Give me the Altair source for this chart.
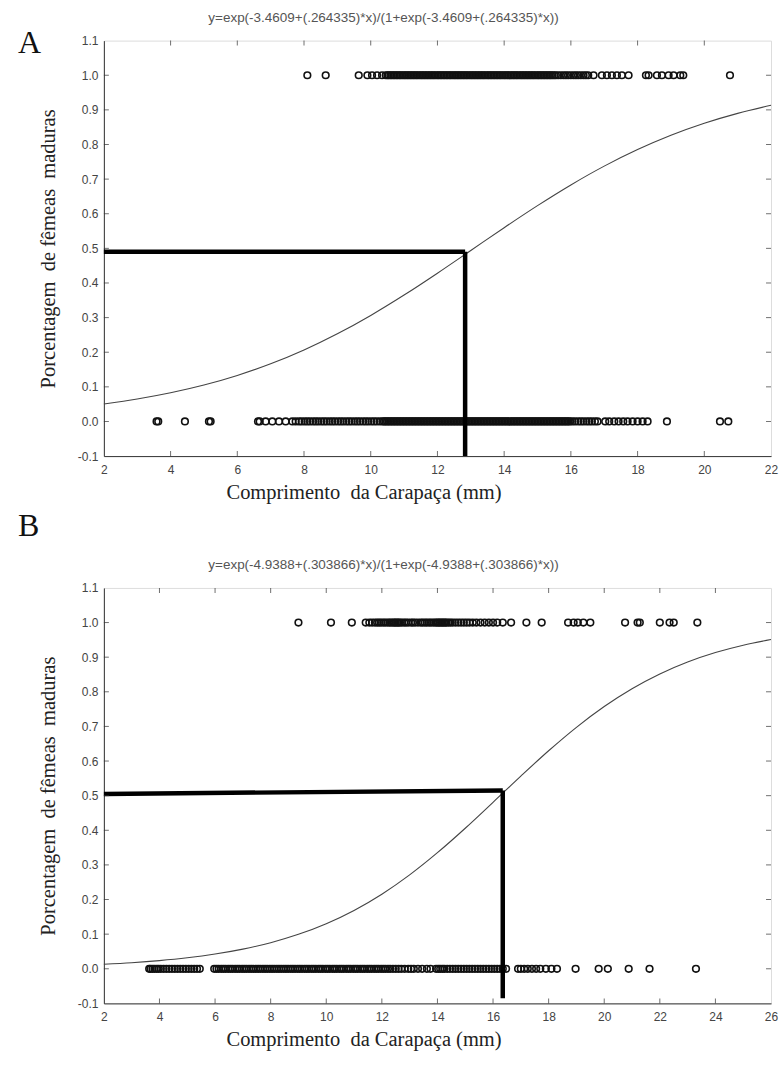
import altair as alt
import pandas as pd

# ---------------- data ----------------
A_top = [8.10, 8.65, 9.64, 9.90, 10.04, 10.19, 10.34,
         10.45, 10.50, 10.54, 10.59, 10.63, 10.68, 10.72, 10.77, 10.81, 10.86, 10.90, 10.95,
         11.00, 11.04, 11.09, 11.13, 11.18, 11.22, 11.27, 11.31, 11.36, 11.40, 11.45, 11.50,
         11.54, 11.59, 11.63, 11.68, 11.72, 11.77, 11.81, 11.86, 11.90, 11.95, 12.00, 12.04,
         12.09, 12.13, 12.18, 12.22, 12.27, 12.31, 12.36, 12.40, 12.45, 12.50, 12.54, 12.59,
         12.63, 12.68, 12.72, 12.77, 12.81, 12.86, 12.90, 12.95, 13.00, 13.04, 13.09, 13.13,
         13.18, 13.22, 13.27, 13.31, 13.36, 13.40, 13.45, 13.50, 13.54, 13.59, 13.63, 13.68,
         13.72, 13.77, 13.81, 13.86, 13.90, 13.95, 14.00, 14.04, 14.09, 14.13, 14.18, 14.22,
         14.27, 14.31, 14.36, 14.40, 14.45, 14.50, 14.54, 14.59, 14.63, 14.68, 14.72, 14.77,
         14.81, 14.86, 14.90, 14.95, 15.00, 15.04, 15.09, 15.13, 15.18, 15.22, 15.27, 15.31,
         15.36, 15.40, 15.45, 15.50, 15.55, 15.62, 15.70, 15.78, 15.85, 15.92, 16.00, 16.08,
         16.15, 16.22, 16.30, 16.38, 16.45, 16.52,
         16.68, 16.93, 17.08, 17.23, 17.38, 17.53, 17.73, 18.25, 18.33, 18.58, 18.73, 18.93,
         19.08, 19.28, 19.37, 20.77]
A_bottom = [3.58, 3.63, 4.43, 5.15, 5.20, 6.62, 6.67, 6.85, 7.05, 7.25, 7.45, 7.65, 7.75,
            7.85, 7.93, 8.02, 8.10, 8.18, 8.27, 8.35, 8.43, 8.52, 8.60, 8.68, 8.77, 8.85, 8.93,
            9.02, 9.10, 9.18, 9.27, 9.35, 9.43, 9.52, 9.60, 9.68, 9.77, 9.85, 9.93, 10.02, 10.10,
            10.18, 10.27, 10.35,
            10.40, 10.44, 10.49, 10.53, 10.58, 10.62, 10.67, 10.71, 10.76, 10.80, 10.85, 10.89,
            10.94, 10.98, 11.03, 11.07, 11.12, 11.16, 11.21, 11.25, 11.30, 11.34, 11.39, 11.43,
            11.48, 11.52, 11.57, 11.61, 11.66, 11.70, 11.75, 11.79, 11.84, 11.88, 11.93, 11.97,
            12.02, 12.06, 12.11, 12.15, 12.20, 12.24, 12.29, 12.33, 12.38, 12.42, 12.47, 12.51,
            12.56, 12.60, 12.65, 12.69, 12.74, 12.78, 12.83, 12.87, 12.92, 12.96, 13.01, 13.05,
            13.10, 13.14, 13.19, 13.23, 13.28, 13.32, 13.37, 13.41, 13.46, 13.50, 13.55, 13.59,
            13.64, 13.68, 13.73, 13.77, 13.82, 13.86, 13.91, 13.95, 14.00, 14.04, 14.09, 14.13,
            14.18, 14.22, 14.27, 14.31, 14.36, 14.40, 14.45, 14.49, 14.54, 14.58, 14.63, 14.67,
            14.72, 14.76, 14.81, 14.85, 14.90, 14.94, 14.99, 15.03, 15.08, 15.12, 15.17, 15.21,
            15.26, 15.30, 15.35, 15.39, 15.44, 15.48, 15.53, 15.57, 15.62, 15.66, 15.71, 15.75,
            15.80, 15.84, 15.89, 15.93, 15.98,
            16.05, 16.13, 16.22, 16.30, 16.38, 16.47, 16.55, 16.63, 16.72, 16.80,
            17.03, 17.15, 17.30, 17.43, 17.57, 17.70, 17.85, 18.00, 18.15, 18.30,
            18.88, 20.47, 20.72]

B_top = [9.00, 10.17, 10.92, 11.42, 11.55, 11.65, 11.75, 11.83, 11.90, 11.97, 12.05, 12.12,
         12.20, 12.27, 12.33, 12.40, 12.45, 12.50, 12.55, 12.60, 12.65, 12.72, 12.80, 12.87,
         12.95, 13.05, 13.12, 13.20, 13.30, 13.40, 13.47, 13.55, 13.62, 13.70, 13.77, 13.85,
         13.92, 13.98, 14.03, 14.08, 14.13, 14.18, 14.23, 14.28, 14.33, 14.40, 14.47, 14.55,
         14.65, 14.75, 14.85, 14.95, 15.05, 15.15, 15.27, 15.40, 15.55, 15.70, 15.85, 16.00,
         16.15, 16.35, 16.65, 17.20, 17.75, 18.70, 18.90, 19.05, 19.25, 19.50, 20.75, 21.20,
         21.28, 22.00, 22.35, 22.50, 23.35]
B_bottom = [3.63, 3.68, 3.75, 3.82, 3.90, 3.97, 4.05, 4.15, 4.25, 4.35, 4.45, 4.55, 4.65,
            4.75, 4.85, 4.95, 5.05, 5.15, 5.25, 5.35, 5.45,
            5.97, 6.05, 6.13, 6.22, 6.30, 6.38, 6.47, 6.55, 6.63, 6.72, 6.80, 6.88, 6.97, 7.05,
            7.13, 7.22, 7.30, 7.38, 7.47, 7.55, 7.63, 7.72, 7.80, 7.88, 7.97, 8.05, 8.13, 8.22,
            8.30, 8.38, 8.47, 8.55, 8.63, 8.72, 8.80, 8.88, 8.97, 9.05, 9.13, 9.22, 9.30, 9.38,
            9.47, 9.55, 9.63, 9.72, 9.80, 9.88, 9.97, 10.05, 10.13, 10.22, 10.30, 10.38, 10.47,
            10.55, 10.63, 10.72, 10.80, 10.88, 10.97, 11.05, 11.13, 11.22, 11.30, 11.38, 11.47,
            11.55, 11.63, 11.72, 11.80, 11.88, 11.97, 12.05, 12.13, 12.22, 12.30, 12.40, 12.50,
            12.60, 12.70, 12.82, 12.95, 13.05, 13.15, 13.30, 13.45, 13.62, 13.75,
            13.95, 14.03, 14.10, 14.18, 14.25, 14.35, 14.45, 14.55, 14.65, 14.75, 14.85, 14.95,
            15.05, 15.15, 15.25, 15.35, 15.45, 15.55, 15.65, 15.75, 15.85, 15.95, 16.05, 16.15,
            16.25, 16.35, 16.47,
            16.90, 17.00, 17.12, 17.25, 17.40, 17.55, 17.70, 17.90, 18.10, 18.30, 18.97, 19.80,
            20.13, 20.88, 21.63, 23.30]

# fitted logistic curves
A_curve_x = [2, 3, 4, 5, 6, 7, 8, 9, 10, 11, 12, 13, 14, 15, 16, 17, 18, 19, 20, 21, 22]
A_curve_y = [0.0506, 0.0649, 0.0829, 0.1053, 0.1330, 0.1665, 0.2065, 0.2532, 0.3063, 0.3651,
             0.4283, 0.4939, 0.5597, 0.6234, 0.6832, 0.7375, 0.7853, 0.8266, 0.8613, 0.8899,
             0.9133]
B_curve_x = [2, 3, 4, 5, 6, 7, 8, 9, 10, 11, 12, 13, 14, 15, 16, 17, 18, 19, 20, 21, 22, 23,
             24, 25, 26]
B_curve_y = [0.0130, 0.0175, 0.0236, 0.0317, 0.0425, 0.0567, 0.0753, 0.0994, 0.1301, 0.1685,
             0.2154, 0.2712, 0.3353, 0.4059, 0.4808, 0.5565, 0.6297, 0.6974, 0.7574, 0.8088,
             0.8515, 0.8860, 0.9133, 0.9345, 0.9508]

# reference (L50) lines: start x, end x, start y, end y
A_ref_x = [2.0, 12.83]
A_ref_x2 = [12.83, 12.83]
A_ref_y = [0.49, 0.49]
A_ref_y2 = [0.49, -0.10]
B_ref_x = [2.0, 16.35]
B_ref_x2 = [16.35, 16.35]
B_ref_y = [0.505, 0.515]
B_ref_y2 = [0.515, -0.085]

A_eq = "y=exp(-3.4609+(.264335)*x)/(1+exp(-3.4609+(.264335)*x))"
B_eq = "y=exp(-4.9388+(.303866)*x)/(1+exp(-4.9388+(.303866)*x))"
X_TITLE = "Comprimento\u00a0 da Carapaça (mm)"
Y_TITLE = "Porcentagem\u00a0 de fêmeas\u00a0 maduras"
Y_TICKS = [round(-0.1 + 0.1 * i, 1) for i in range(13)]

W, H = 668, 416
AXC = "#333333"
LBL = "#444444"


def panel(letter, letter_y, eq, top, bottom, cx, cy, rx, rx2, ry, ry2, xmax):
    xticks = list(range(2, xmax + 1, 2))
    xs = alt.Scale(domain=[2, xmax], nice=False, zero=False)
    ys = alt.Scale(domain=[-0.1, 1.1], nice=False, zero=False)

    xaxis = alt.Axis(values=xticks, format="d", title=X_TITLE, grid=False, ticks=False,
                     labelPadding=8, titlePadding=7, labelFont="Liberation Sans",
                     labelFontSize=12, labelColor=LBL, titleFont="Liberation Serif",
                     titleFontSize=20.5, titleFontWeight="normal", titleColor="#222222",
                     domainColor=AXC, labelFlush=False, titleX=260, titleAlign="center",
                     titleAnchor="start")
    yaxis = alt.Axis(values=Y_TICKS, title=Y_TITLE, grid=False, ticks=False,
                     labelExpr="replace(format(datum.value, '.1f'), '\u2212', '-')",
                     labelPadding=6, titlePadding=19, labelFont="Liberation Sans",
                     labelFontSize=12, labelColor=LBL, titleFont="Liberation Serif",
                     titleFontSize=20.5, titleFontWeight="normal", titleColor="#222222",
                     domainColor=AXC, labelFlush=False)

    def X(f):
        return alt.X(f, scale=xs, axis=xaxis)

    def Y(f):
        return alt.Y(f, scale=ys, axis=yaxis)

    pts = pd.DataFrame({"x": top + bottom, "y": [1.0] * len(top) + [0.0] * len(bottom)})
    points = alt.Chart(pts).mark_point(shape="circle", filled=False, size=44, strokeWidth=1.6,
                                       color="#111111", opacity=1).encode(
        x=X("x:Q"), y=Y("y:Q"))

    curve = alt.Chart(pd.DataFrame({"x": cx, "y": cy})).mark_line(
        color="#444444", strokeWidth=1.1, interpolate="monotone").encode(
        x=X("x:Q"), y=Y("y:Q"))

    ref = alt.Chart(pd.DataFrame({"x": rx, "x2": rx2, "y": ry, "y2": ry2})).mark_rule(
        color="#000000", strokeWidth=4.5).encode(
        x=X("x:Q"), x2="x2:Q", y=Y("y:Q"), y2="y2:Q")

    inner_x = xticks[1:-1]
    inner_y = Y_TICKS[1:-1]
    tb = pd.DataFrame({"v": inner_x})
    lr = pd.DataFrame({"v": inner_y})
    tick_b = alt.Chart(tb).mark_tick(orient="vertical", size=5, thickness=1, color=AXC).encode(
        x=X("v:Q"), y=alt.value(H - 2.5))
    tick_t = alt.Chart(tb).mark_tick(orient="vertical", size=5, thickness=1, color=AXC).encode(
        x=X("v:Q"), y=alt.value(2.5))
    tick_l = alt.Chart(lr).mark_tick(orient="horizontal", size=5, thickness=1, color=AXC).encode(
        y=Y("v:Q"), x=alt.value(2.5))
    tick_r = alt.Chart(lr).mark_tick(orient="horizontal", size=5, thickness=1, color=AXC).encode(
        y=Y("v:Q"), x=alt.value(W - 2.5))

    lab = alt.Chart(pd.DataFrame({"t": [letter]})).mark_text(
        font="Liberation Serif", fontSize=32, align="left", baseline="alphabetic",
        color="#111111").encode(x=alt.value(-86), y=alt.value(letter_y), text="t:N")

    eqt = alt.Chart(pd.DataFrame({"t": [eq]})).mark_text(
        font="Liberation Sans", fontSize=13.5, align="center", baseline="middle",
        color="#555555").encode(x=alt.value(280), y=alt.value(-23), text="t:N")

    return alt.layer(points, curve, ref, tick_b, tick_t, tick_l, tick_r, lab, eqt).properties(
        width=W, height=H)


pA = panel("A", 12, A_eq, A_top, A_bottom, A_curve_x, A_curve_y,
           A_ref_x, A_ref_x2, A_ref_y, A_ref_y2, 22)
pB = panel("B", -52, B_eq, B_top, B_bottom, B_curve_x, B_curve_y,
           B_ref_x, B_ref_x2, B_ref_y, B_ref_y2, 26)

chart = alt.vconcat(pA, pB, spacing=6).properties(
    padding={"left": 17, "top": 9, "right": 2, "bottom": 4}
).configure_view(stroke=AXC, strokeWidth=1).configure(background="white")

chart.save("out.html", embed_options={"renderer": "svg", "actions": False})
